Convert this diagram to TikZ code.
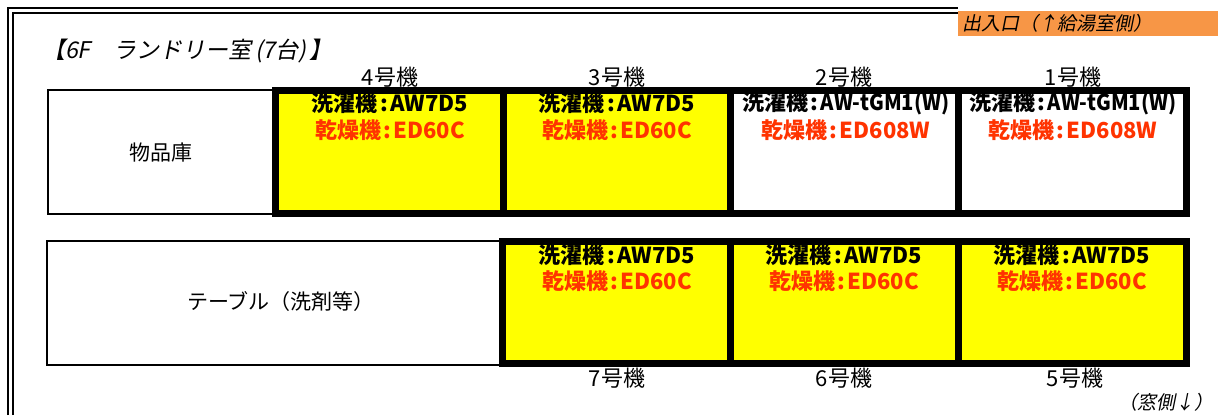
\documentclass[tikz,border=0pt]{standalone}
\usepackage{fontspec}
\setmainfont{Noto Sans CJK JP}
\newfontfamily\jpit[FakeSlant=0.2]{Noto Sans CJK JP}
\definecolor{dryred}{RGB}{255,51,0}
\definecolor{exitorange}{RGB}{247,150,70}
\definecolor{cellyellow}{RGB}{255,255,0}
\newcommand{\spcolon}{\hspace{0.1em}:\hspace{0.1em}}
\newcommand{\narrowlatin}[1]{\scalebox{0.92}[1]{#1}}
\begin{document}
\begin{tikzpicture}[x=1pt,y=-1pt,
  thinbox/.style={draw=black,line width=2.5pt},
  heavyframe/.style={draw=black,line width=7pt},
  wallline/.style={draw=black,line width=2.2pt},
  washer/.style={font=\fontsize{22}{22}\selectfont\bfseries,text=black,inner sep=0pt},
  dryer/.style={font=\fontsize{22}{22}\selectfont\bfseries,text=dryred,inner sep=0pt},
  unitlabel/.style={font=\fontsize{22}{22}\selectfont,inner sep=0pt},
  roomlabel/.style={font=\fontsize{21}{21}\selectfont,inner sep=0pt},
  notelabel/.style={font=\fontsize{19}{19}\selectfont\jpit,inner sep=0pt},
]
\useasboundingbox (0,0) rectangle (1218,415);
\fill[white] (0,0) rectangle (1218,415);

% outer double wall
\draw[wallline] (8,415) -- (8,8) -- (958,8);
\draw[wallline] (12.8,415) -- (12.8,12.8) -- (958,12.8);

% entrance
\fill[exitorange] (958,11) rectangle (1218,36);
\node[notelabel,anchor=west] (entrance) at (962,23) {出入口（↑給湯室側）};

% title
\node[font=\fontsize{23}{23}\selectfont\jpit,inner sep=0pt,anchor=west] (title) at (42,51) {【6F　ランドリー室\hspace{0.15em}(7台)\hspace{0.15em}】};

% top row
\fill[cellyellow] (275.5,90.5) rectangle (730.5,213.5);
\draw[thinbox] (48,90) rectangle (275,214);
\draw[heavyframe] (275.5,90.5) rectangle (1186.5,213.5);
\draw[heavyframe] (503.5,90.5) -- (503.5,213.5);
\draw[heavyframe] (730.5,90.5) -- (730.5,213.5);
\draw[heavyframe] (958.5,90.5) -- (958.5,213.5);
\node[roomlabel] (store) at (161,153) {物品庫};

% bottom row
\fill[cellyellow] (502.5,241.5) rectangle (1186.5,363.5);
\draw[thinbox] (47,241) rectangle (502,365);
\draw[heavyframe] (502.5,241.5) rectangle (1186.5,363.5);
\draw[heavyframe] (730.5,241.5) -- (730.5,363.5);
\draw[heavyframe] (958.5,241.5) -- (958.5,363.5);
\node[roomlabel] (table) at (281,302) {テーブル（洗剤等）};

% unit labels
\node[unitlabel] (u4) at (390,77) {4号機};
\node[unitlabel] (u3) at (617,77) {3号機};
\node[unitlabel] (u2) at (844,77) {2号機};
\node[unitlabel] (u1) at (1073,77) {1号機};
\node[unitlabel] (u7) at (617,378) {7号機};
\node[unitlabel] (u6) at (844,378) {6号機};
\node[unitlabel] (u5) at (1075,378) {5号機};

% cell texts top
\node[washer] (w4) at (390,103) {洗濯機\spcolon AW7D5};
\node[dryer] (d4) at (390,130) {乾燥機\spcolon ED60C};
\node[washer] (w3) at (617,103) {洗濯機\spcolon AW7D5};
\node[dryer] (d3) at (617,130) {乾燥機\spcolon ED60C};
\node[washer] (w2) at (846,103) {洗濯機\spcolon\narrowlatin{AW-tGM1(W)}};
\node[dryer] (d2) at (846,130) {乾燥機\spcolon ED608W};
\node[washer] (w1) at (1073,103) {洗濯機\spcolon\narrowlatin{AW-tGM1(W)}};
\node[dryer] (d1) at (1073,130) {乾燥機\spcolon ED608W};

% cell texts bottom
\node[washer] (w7) at (617,255) {洗濯機\spcolon AW7D5};
\node[dryer] (d7) at (617,281) {乾燥機\spcolon ED60C};
\node[washer] (w6) at (844,255) {洗濯機\spcolon AW7D5};
\node[dryer] (d6) at (844,281) {乾燥機\spcolon ED60C};
\node[washer] (w5) at (1072,255) {洗濯機\spcolon AW7D5};
\node[dryer] (d5) at (1072,281) {乾燥機\spcolon ED60C};

\node[notelabel,anchor=east] (window) at (1214,402) {（窓側↓）};
\end{tikzpicture}
\end{document}
